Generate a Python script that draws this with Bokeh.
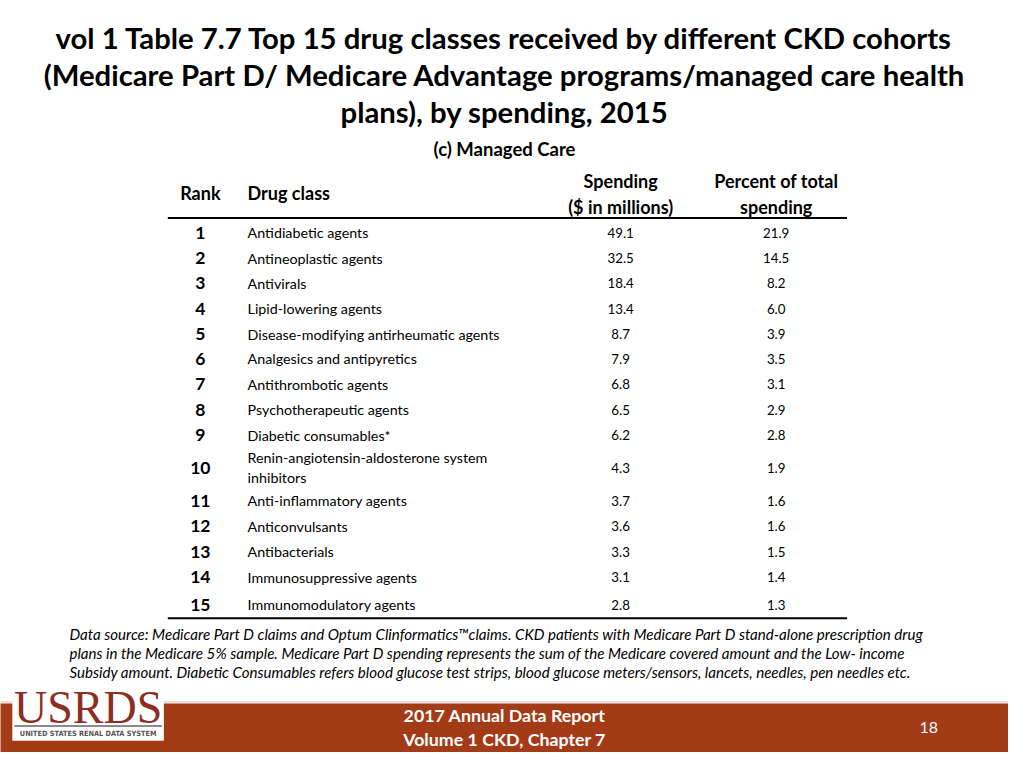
from bokeh.plotting import figure
from bokeh.models import ColumnDataSource, Range1d
from bokeh.core.properties import value
from bokeh.embed import file_html
from bokeh.resources import INLINE

ranks = ["1", "2", "3", "4", "5", "6", "7", "8", "9", "10", "11", "12", "13", "14", "15"]
drug_classes = [
    "Antidiabetic agents",
    "Antineoplastic agents",
    "Antivirals",
    "Lipid-lowering agents",
    "Disease-modifying antirheumatic agents",
    "Analgesics and antipyretics",
    "Antithrombotic agents",
    "Psychotherapeutic agents",
    "Diabetic consumables*",
    "Renin-angiotensin-aldosterone system\ninhibitors",
    "Anti-inflammatory agents",
    "Anticonvulsants",
    "Antibacterials",
    "Immunosuppressive agents",
    "Immunomodulatory agents",
]
spending = [49.1, 32.5, 18.4, 13.4, 8.7, 7.9, 6.8, 6.5, 6.2, 4.3, 3.7, 3.6, 3.3, 3.1, 2.8]
percent = [21.9, 14.5, 8.2, 6.0, 3.9, 3.5, 3.1, 2.9, 2.8, 1.9, 1.6, 1.6, 1.5, 1.4, 1.3]

title_lines = [
    "vol 1 Table 7.7 Top 15 drug classes received by different CKD cohorts",
    "(Medicare Part D/ Medicare Advantage programs/managed care health",
    "plans), by spending, 2015",
]
subtitle = "(c) Managed Care"
footnote_lines = [
    "Data source: Medicare Part D claims and Optum Clinformatics\u2122claims. CKD patients with Medicare Part D stand-alone prescription drug",
    "plans in the Medicare 5% sample. Medicare Part D spending represents the sum of the Medicare covered amount and the Low- income",
    "Subsidy amount. Diabetic Consumables refers blood glucose test strips, blood glucose meters/sensors, lancets, needles, pen needles etc.",
]
footer_lines = ["2017 Annual Data Report", "Volume 1 CKD, Chapter 7"]
page_number = "18"

FONT = "Lato"
BROWN = "#a23b16"

p = figure(width=1008, height=752, output_backend="svg", toolbar_location=None,
           x_range=Range1d(0, 1024), y_range=Range1d(768, 0),
           min_border=0)
p.axis.visible = False
p.grid.visible = False
p.outline_line_color = None
p.background_fill_color = "white"
p.border_fill_color = "white"

# Title
p.text(x=[512] * 3, y=[38, 76, 113], text=title_lines, text_font=value(FONT),
       text_font_size="29.3px", text_font_style="bold", text_align="center",
       text_baseline="middle", text_color="black")
p.text(x=[512], y=[152], text=[subtitle], text_font=value(FONT), text_font_size="18.5px",
       text_font_style="bold", text_align="center", text_baseline="middle", text_color="black")

# Header
hdr = dict(text_font=value(FONT), text_font_size="18px", text_font_style="bold",
           text_baseline="middle", text_color="black")
p.text(x=[203], y=[197], text=["Rank"], text_align="center", **hdr)
p.text(x=[251], y=[197], text=["Drug class"], text_align="left", **hdr)
p.text(x=[630, 630], y=[184, 211], text=["Spending", "($ in millions)"], text_align="center", **hdr)
p.text(x=[788, 788], y=[184, 211], text=["Percent of total", "spending"], text_align="center", **hdr)

# Rules
p.segment(x0=[170, 170], y0=[222, 631], x1=[860, 860], y1=[222, 631],
          line_color="black", line_width=2)

# Rows
row_y = [237, 263, 289, 315, 341, 366, 392, 418, 444, 477, 511, 537, 563, 589, 617]
src = ColumnDataSource(dict(
    y=row_y, rank=ranks,
    sp=[f"{v:.1f}" for v in spending], pc=[f"{v:.1f}" for v in percent],
))
p.text(x=203, y="y", text="rank", source=src, text_font=value(FONT), text_font_size="17.5px",
       text_font_style="bold", text_align="center", text_baseline="middle", text_color="black")
p.text(x=630, y="y", text="sp", source=src, text_font=value(FONT), text_font_size="13.3px",
       text_align="center", text_baseline="middle", text_color="black")
p.text(x=788, y="y", text="pc", source=src, text_font=value(FONT), text_font_size="13.3px",
       text_align="center", text_baseline="middle", text_color="black")

cls_x, cls_y, cls_t = [], [], []
for y, c in zip(row_y, drug_classes):
    parts = c.split("\n")
    n = len(parts)
    for i, part in enumerate(parts):
        cls_x.append(251)
        cls_y.append(y + (i - (n - 1) / 2) * 21)
        cls_t.append(part)
p.text(x=cls_x, y=cls_y, text=cls_t, text_font=value(FONT), text_font_size="14.3px",
       text_align="left", text_baseline="middle", text_color="black")

# Footnote
p.text(x=[70] * 3, y=[647, 666, 686], text=footnote_lines, text_font=value(FONT),
       text_font_size="15.1px", text_font_style="italic", text_align="left",
       text_baseline="middle", text_color="black")

# Footer bar
p.quad(left=[-5], right=[1030], top=[718], bottom=[775], fill_color=BROWN, line_color=None)
p.segment(x0=[-5], y0=[716.5], x1=[1030], y1=[716.5], line_color="#ecdcd6", line_width=2)
p.text(x=[512, 512], y=[730, 754], text=footer_lines, text_font=value(FONT),
       text_font_size="17.8px", text_font_style="bold", text_align="center",
       text_baseline="middle", text_color="white")
p.text(x=[943], y=[742], text=[page_number], text_font=value(FONT), text_font_size="16px",
       text_align="center", text_baseline="middle", text_color="white")

# Logo
p.quad(left=[12], right=[166], top=[703], bottom=[756], fill_color="white", line_color=None)
p.text(x=[89], y=[722], text=["USRDS"], text_font=value("Liberation Serif"),
       text_font_size="46px", text_align="center", text_baseline="middle", text_color="#8c2f22")
p.segment(x0=[14], y0=[741], x1=[164], y1=[741], line_color="#8a8a8a", line_width=2)
p.text(x=[89], y=[748.5], text=["UNITED STATES RENAL DATA SYSTEM"], text_font=value("DejaVu Sans Condensed"),
       text_font_size="7.3px", text_font_style="bold", text_align="center",
       text_baseline="middle", text_color="#555555")

open("out.html", "w").write(file_html(p, INLINE))
